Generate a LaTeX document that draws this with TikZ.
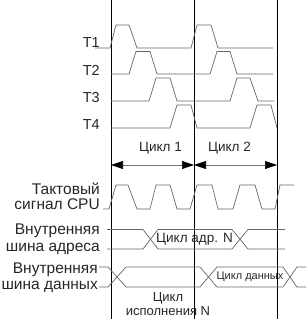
\documentclass[tikz,border=0pt]{standalone}
\usepackage{fontspec}
\setmainfont{Liberation Sans}
\usetikzlibrary{arrows.meta, positioning}

\begin{document}
\begin{tikzpicture}[x=1pt, y=-1pt,
  lbl/.style={font=\fontsize{13.5}{13.5}\selectfont, inner sep=0pt, text=black!85},
  lft/.style={lbl, font=\fontsize{15.5}{15.5}\selectfont, anchor=east},
  tlbl/.style={lft, font=\fontsize{14.5}{14.5}\selectfont},
  small/.style={lbl, font=\fontsize{11}{11}\selectfont},
  vline/.style={draw=black, line width=0.6pt},
  sig/.style={draw=black!60, line width=0.7pt},
  cyc/.style={{Triangle[length=12pt,width=8pt,color=black]}-{Triangle[length=12pt,width=8pt,color=black]}, draw=black!55, line width=0.6pt},
]
\useasboundingbox (0,0) rectangle (306,319);

%% Cycle borders
\coordinate (v1) at (111,0);   \coordinate (v1b) at (111,319);
\coordinate (v2) at (194,0);   \coordinate (v2b) at (194,319);
\coordinate (v3) at (277,0);   \coordinate (v3b) at (277,319);
\draw[vline] (v1) -- (v1b);
\draw[vline] (v2) -- (v2b);
\draw[vline] (v3) -- (v3b);

%% Phase pulses
\node[tlbl] (t1) at (100,43)  {T1};
\node[tlbl] (t2) at (100,70)  {T2};
\node[tlbl] (t3) at (100,98)  {T3};
\node[tlbl] (t4) at (100,125) {T4};
\draw[sig] (95,48) -- (110,48) -- (116,25) -- (129,25) -- (137,48) -- (191,48) -- (197,25) -- (211,25) -- (218,48) -- (273,48);
\draw[sig] (111,74) -- (129,74) -- (136,51.5) -- (150,51.5) -- (157,74) -- (210,74) -- (217,51.5) -- (230,51.5) -- (237,74) -- (273,74);
\draw[sig] (111,101) -- (149,101) -- (156,78) -- (170,78) -- (177,101) -- (230,101) -- (237,78) -- (250,78) -- (258,101) -- (274,101);
\draw[sig] (111,128) -- (170,128) -- (177,105) -- (191,105) -- (197,128) -- (250,128) -- (257,105) -- (271,105) -- (277,128);

%% Machine cycles
\node[lbl] (c1) at (160.5,148) {Цикл 1};
\node[lbl] (c2) at (229.5,148) {Цикл 2};
\coordinate (a1) at (111,165);
\coordinate (a2) at (194,165);
\coordinate (a3) at (277,165);
\draw[cyc] (a1) -- (a2);
\draw[cyc] (a2) -- (a3);

%% Clock
\node[lft] (clk1) at (100,189) {Тактовый};
\node[lft] (clk2) at (100,204) {сигнал CPU};
\draw[sig] (103,209) -- (109,209) -- (116,185) -- (128,185) -- (137,209) -- (150,209) -- (156,185) -- (170,185) -- (177,209) -- (190,209) -- (197,185) -- (212,185) -- (218,209) -- (233,209) -- (240,185) -- (255,185) -- (262,209) -- (275,209) -- (280,185) -- (294,185);

%% Address bus
\node[lft] (ab1) at (100,231) {Внутренняя};
\node[lft] (ab2) at (100,249) {шина адреса};
\draw[sig] (107,229.5) -- (143,229.5) -- (158,249) -- (232,249) -- (248,229.5) -- (285,229.5);
\draw[sig] (107,249) -- (143,249) -- (158,229.5) -- (232,229.5) -- (248,249) -- (285,249);
\node[lbl] (abn) at (194.5,239) {Цикл адр. N};

%% Data bus
\node[lft] (db1) at (98,270) {Внутренняя};
\node[lft] (db2) at (98,287) {шина данных};
\draw[sig] (99,267) -- (108,267) -- (126,287) -- (200,287) -- (217,267) -- (283,267) -- (297,287) -- (306,287);
\draw[sig] (99,287) -- (108,287) -- (126,267) -- (200,267) -- (217,287) -- (283,287) -- (297,267) -- (306,267);
\node[small] (dbn) at (250,277) {Цикл данных};

%% Execution
\node[lbl, font=\fontsize{13}{14}\selectfont, align=center] (ex) at (168,304) {Цикл\\исполнения N};
\end{tikzpicture}
\end{document}
